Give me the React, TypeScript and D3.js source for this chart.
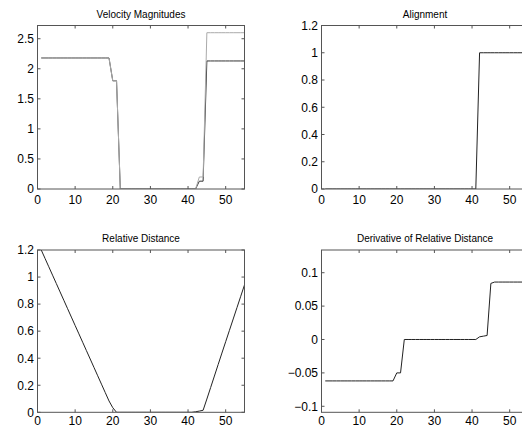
import React from "react";
import * as d3 from "d3";

const steps = [1,2,3,4,5,6,7,8,9,10,11,12,13,14,15,16,17,18,19,20,21,22,23,24,25,26,27,28,29,30,31,32,33,34,35,36,37,38,39,40,41,42,43,44,45,46,47,48,49,50,51,52,53,54,55];

const velocityLight = [2.18,2.18,2.18,2.18,2.18,2.18,2.18,2.18,2.18,2.18,2.18,2.18,2.18,2.18,2.18,2.18,2.18,2.18,2.18,1.8,1.8,0,0,0,0,0,0,0,0,0,0,0,0,0,0,0,0,0,0,0,0,0,0.2,0.2,2.6,2.6,2.6,2.6,2.6,2.6,2.6,2.6,2.6,2.6,2.6];
const velocityDark = [2.18,2.18,2.18,2.18,2.18,2.18,2.18,2.18,2.18,2.18,2.18,2.18,2.18,2.18,2.18,2.18,2.18,2.18,2.18,1.8,1.8,0,0,0,0,0,0,0,0,0,0,0,0,0,0,0,0,0,0,0,0,0,0.13,0.13,2.13,2.13,2.13,2.13,2.13,2.13,2.13,2.13,2.13,2.13,2.13];
const alignment = [0,0,0,0,0,0,0,0,0,0,0,0,0,0,0,0,0,0,0,0,0,0,0,0,0,0,0,0,0,0,0,0,0,0,0,0,0,0,0,0,0,1,1,1,1,1,1,1,1,1,1,1,1,1,1];
const relativeDistance = [1.2,1.138,1.076,1.014,0.952,0.89,0.828,0.766,0.704,0.642,0.58,0.518,0.456,0.394,0.332,0.27,0.208,0.146,0.084,0.034,0,0,0,0,0,0,0,0,0,0,0,0,0,0,0,0,0,0,0,0,0,0.004,0.009,0.015,0.098,0.183,0.268,0.353,0.438,0.522,0.606,0.69,0.774,0.858,0.942];
const derivative = [-0.062,-0.062,-0.062,-0.062,-0.062,-0.062,-0.062,-0.062,-0.062,-0.062,-0.062,-0.062,-0.062,-0.062,-0.062,-0.062,-0.062,-0.062,-0.062,-0.05,-0.05,0,0,0,0,0,0,0,0,0,0,0,0,0,0,0,0,0,0,0,0,0.004,0.005,0.006,0.084,0.086,0.086,0.086,0.086,0.086,0.086,0.086,0.086,0.086,0.086];

const xTicks = [0, 10, 20, 30, 40, 50];
const velTicks = [0, 0.5, 1, 1.5, 2, 2.5];
const unitTicks = [0, 0.2, 0.4, 0.6, 0.8, 1, 1.2];
const derivTicks = [-0.1, -0.05, 0, 0.05, 0.1];

const titles = ["Velocity Magnitudes", "Alignment", "Relative Distance", "Derivative of Relative Distance"];

const FONT = "'Liberation Sans', Arial, Helvetica, sans-serif";
const AXIS = "#555";

type Series = { values: number[]; color: string };

function fmt(v: number) {
  const s = String(+v.toFixed(4));
  return s.replace("-", "\u2212");
}

function Panel(props: {
  left: number; right: number; top: number; bottom: number;
  yDomain: [number, number]; yTicks: number[]; title: string; titleY: number;
  series: Series[]; xLabelOffset: number;
}) {
  const { left, right, top, bottom, yDomain, yTicks, title, titleY, series, xLabelOffset } = props;
  const x = d3.scaleLinear().domain([0, 55]).range([left, right]);
  const y = d3.scaleLinear().domain(yDomain).range([bottom, top]);
  const tl = 3;
  const clipId = "clip" + Math.round(left) + "_" + Math.round(top);
  return (
    <g>
      <defs>
        <clipPath id={clipId}>
          <rect x={left} y={top} width={right - left} height={bottom - top} />
        </clipPath>
      </defs>
      <text x={(left + right) / 2} y={titleY} textAnchor="middle" fontSize={10} fontFamily={FONT} fill="#000">{title}</text>
      <g clipPath={`url(#${clipId})`}>
        {series.map((s, i) => {
          const line = d3.line<number>().x((_, j) => x(steps[j])).y((d) => y(d));
          return <path key={i} d={line(s.values) || ""} fill="none" stroke={s.color} strokeWidth={1} />;
        })}
      </g>
      <rect x={left} y={top} width={right - left} height={bottom - top} fill="none" stroke={AXIS} strokeWidth={1} />
      {xTicks.map((t) => (
        <g key={"x" + t}>
          <line x1={x(t)} x2={x(t)} y1={bottom} y2={bottom - tl} stroke={AXIS} />
          <line x1={x(t)} x2={x(t)} y1={top} y2={top + tl} stroke={AXIS} />
          <text x={x(t)} y={bottom + xLabelOffset} textAnchor="middle" fontSize={12} fontFamily={FONT} fill="#000">{fmt(t)}</text>
        </g>
      ))}
      {yTicks.map((t) => (
        <g key={"y" + t}>
          <line x1={left} x2={left + tl} y1={y(t)} y2={y(t)} stroke={AXIS} />
          <line x1={right} x2={right - tl} y1={y(t)} y2={y(t)} stroke={AXIS} />
          <text x={left - 3.5} y={y(t) + 4.3} textAnchor="end" fontSize={12} fontFamily={FONT} fill="#000">{fmt(t)}</text>
        </g>
      ))}
    </g>
  );
}

export default function App() {
  const L1 = 37.5, R1 = 244.5, L2 = 321.5, R2 = 528.5;
  const T1 = 25.5, B1 = 189, T2 = 250, B2 = 412.3;
  return (
    <svg width={522} height={428} style={{ position: "absolute", left: 0, top: 0, background: "#fff", overflow: "hidden" }}>
      <rect x={0} y={0} width={522} height={428} fill="#fff" />
      <Panel left={L1} right={R1} top={T1} bottom={B1} yDomain={[0, 2.72]} yTicks={velTicks} title={titles[0]} titleY={17.5} xLabelOffset={14.5}
        series={[{ values: velocityDark, color: "#333" }, { values: velocityLight, color: "#aaa" }]} />
      <Panel left={L2} right={R2} top={T1} bottom={B1} yDomain={[0, 1.2]} yTicks={unitTicks} title={titles[1]} titleY={17.5} xLabelOffset={14.5}
        series={[{ values: alignment, color: "#222" }]} />
      <Panel left={L1} right={R1} top={T2} bottom={B2} yDomain={[0, 1.2]} yTicks={unitTicks} title={titles[2]} titleY={241.5} xLabelOffset={12.3}
        series={[{ values: relativeDistance, color: "#222" }]} />
      <Panel left={L2} right={R2} top={T2} bottom={B2} yDomain={[-0.109, 0.134]} yTicks={derivTicks} title={titles[3]} titleY={241.5} xLabelOffset={12.3}
        series={[{ values: derivative, color: "#222" }]} />
    </svg>
  );
}
